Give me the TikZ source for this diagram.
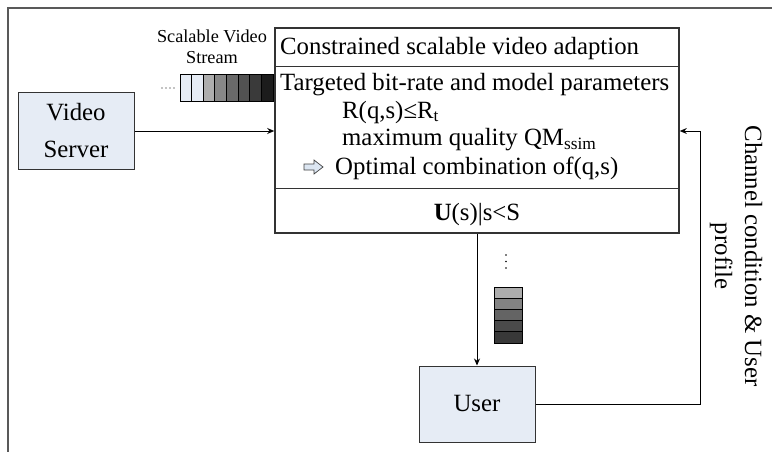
\documentclass[tikz,border=0pt]{standalone}
\usepackage{fontspec}
\setmainfont{Liberation Serif}
\usetikzlibrary{arrows.meta,calc}
\definecolor{boxblue}{HTML}{E6ECF5}
\definecolor{arrblue}{HTML}{DCE6F2}
\tikzset{
  blk/.style={draw=black!80, line width=1pt, fill=boxblue, inner sep=0pt, align=center,
    font=\fontsize{24.8}{37}\selectfont},
  conn/.style={draw=black, line width=0.9pt, -{Stealth[length=7pt,width=6pt]}},
  txt/.style={anchor=base west, inner sep=0pt, font=\fontsize{24.8}{28}\selectfont},
  cell/.style={draw=black, line width=0.8pt},
}
\begin{document}
\begin{tikzpicture}[x=1pt,y=-1pt]
\useasboundingbox (0,0) rectangle (772,452);
% outer frame (partial)
\draw[black!65, line width=1.6pt] (8,452) -- (8,8) -- (772,8);

% main box
\node[draw=black!80, line width=1.6pt, minimum width=404pt, minimum height=205pt, inner sep=0pt] (main) at (477,130.5) {};
\draw[black!80, line width=1pt] ([yshift=-39pt]main.north west) -- ([yshift=-39pt]main.north east);
\draw[black!80, line width=1pt] ([yshift=45pt]main.south west) -- ([yshift=45pt]main.south east);

\node[txt] (t1) at (280,55) {Constrained scalable video adaption};
\node[txt] (t2) at (280,91) {Targeted bit-rate and model parameters};
\node[txt] (t3) at (342,118) {R(q,s)≤R\textsubscript{t}};
\node[txt] (t4) at (342,146) {maximum quality QM\textsubscript{ssim}};
\node[txt] (t5) at (335,174) {Optimal combination of(q,s)};
\node[anchor=base, inner sep=0pt, font=\fontsize{24.8}{28}\selectfont] (t6) at (477,220) {\textbf{U}(s)|s<S};
% hollow arrow
\draw[fill=arrblue, draw=black!75, line width=0.7pt]
  (304,164) -- (314,164) -- (314,160) -- (323,167) -- (314,174) -- (314,170) -- (304,170) -- cycle;

% video server
\node[blk, minimum width=116pt, minimum height=76pt] (vs) at (76,131) {Video\\Server};
% user
\node[blk, minimum width=116pt, minimum height=76pt] (user) at (477,404) {User};

% stream label
\node[align=center, inner sep=0pt, font=\fontsize{18.25}{21}\selectfont] (lbl) at (212,47) {Scalable Video\\Stream};
% horizontal stream cells
\foreach \c [count=\i from 0] in {E6ECF5,E6ECF5,ADADAD,888888,6A6A6A,525252,3A3A3A,1C1C1C} {
  \definecolor{cc}{HTML}{\c}
  \fill[cc] (180+\i*11.625,74) rectangle (180+\i*11.625+11.625,101);
  \draw[cell] (180+\i*11.625,74) rectangle (180+\i*11.625+11.625,101);
}
\foreach \x in {162,166,170,174} \fill (\x,88) circle (0.7pt);

% vertical stack
\foreach \c [count=\i from 0] in {ADADAD,838383,646464,4A4A4A,383838} {
  \definecolor{cc}{HTML}{\c}
  \fill[cc] (494,287+\i*11.2) rectangle (522,287+\i*11.2+11.2);
  \draw[cell] (494,287+\i*11.2) rectangle (522,287+\i*11.2+11.2);
}
\foreach \y in {255,261.5,268} \fill (506,\y) circle (0.8pt);

% connectors
\draw[conn] (vs.east) -- (vs.east -| main.west);
\draw[conn] (main.south) -- (user.north);
\coordinate (fb) at (700,404);
\draw[conn] (user.east) -- (fb) -- (fb |- vs.east) -- (vs.east -| main.east);

% rotated label
\node[rotate=-90, align=center, inner sep=0pt, font=\fontsize{24.8}{30}\selectfont] (cl) at (736,256) {Channel condition \& User\\profile};
\end{tikzpicture}
\end{document}
